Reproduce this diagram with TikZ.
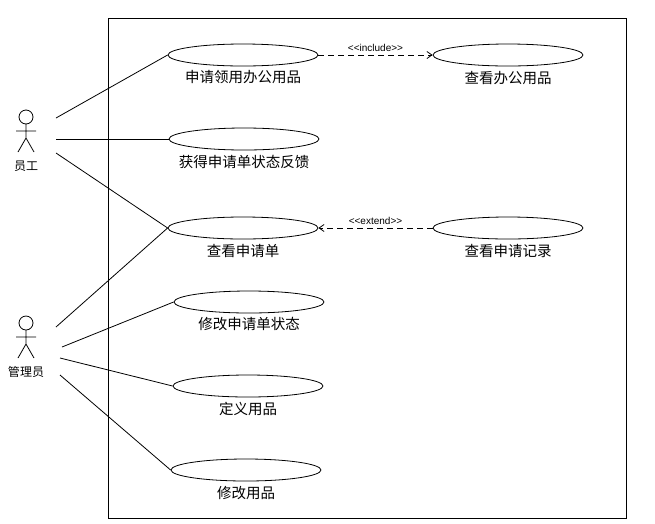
\documentclass[tikz,border=0pt]{standalone}
\usepackage{fontspec}
\setmainfont{Liberation Sans}
\newfontfamily\cjk{Noto Sans CJK SC}
\newfontfamily\cjks{Noto Sans CJK SC}
\usetikzlibrary{arrows.meta,shapes.geometric}
\begin{document}
\begin{tikzpicture}[x=1pt,y=-1pt,line width=0.8pt,
  uc/.style={draw,ellipse,minimum width=150pt,minimum height=22pt,inner sep=0pt},
  lab/.style={font=\cjk\fontsize{14.5}{16}\selectfont},
  alab/.style={font=\cjks\fontsize{12}{14}\selectfont},
  rel/.style={dashed,dash pattern=on 6pt off 4pt,-{Straight Barb[length=5pt,width=7pt]}},
  st/.style={font=\fontsize{10}{12}\selectfont}]
\useasboundingbox (0,0) rectangle (655,523);
\draw[line width=0.6pt] (108,18) rectangle (626,518);
\node[uc] (e1) at (243,55) {};
\node[lab] at (243,77) {申请领用办公用品};
\node[uc] (e2) at (244,139) {};
\node[lab] at (244,162) {获得申请单状态反馈};
\node[uc] (e3) at (243,228) {};
\node[lab] at (243,251) {查看申请单};
\node[uc] (e4) at (249,302) {};
\node[lab] at (249,324) {修改申请单状态};
\node[uc] (e5) at (248,386) {};
\node[lab] at (248,409) {定义用品};
\node[uc] (e6) at (246,470) {};
\node[lab] at (246,493) {修改用品};
\node[uc] (e7) at (508,55) {};
\node[lab] at (508,78) {查看办公用品};
\node[uc] (e8) at (508,228) {};
\node[lab] at (508,251) {查看申请记录};
% actors
\foreach \n/\y/\t in {a1/117/员工, a2/323/管理员}{
  \draw (26,\y) circle (7);
  \draw (26,\y+7) -- (26,\y+21) (16,\y+14) -- (36,\y+14)
        (18,\y+35) -- (26,\y+21) -- (34,\y+35);
  \node[alab] (\n) at (26,\y+49) {\t};
}
\coordinate (p1) at (56,118);
\coordinate (p2) at (56,139);
\coordinate (p3) at (56,153);
\coordinate (q1) at (56,327);
\coordinate (q2) at (62,347);
\coordinate (q3) at (60,358);
\coordinate (q4) at (60,375);
\draw (p1) -- (e1.west);
\draw (p2) -- (e2.west);
\draw (p3) -- (e3.west);
\draw (q1) -- (e3.west);
\draw (q2) -- (e4.west);
\draw (q3) -- (e5.west);
\draw (q4) -- (e6.west);
\draw[rel] (e1.east) -- node[st,above=0pt] {<{}<include>{}>} (e7.west);
\draw[rel] (e8.west) -- node[st,above=0pt] {<{}<extend>{}>} (e3.east);
\end{tikzpicture}
\end{document}
